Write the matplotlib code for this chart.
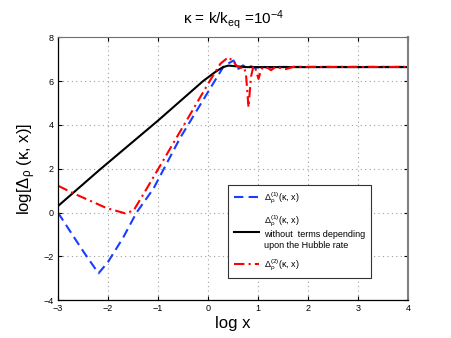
import matplotlib
matplotlib.use('Agg')
import matplotlib.pyplot as plt
import numpy as np

plt.rcParams['font.family'] = ['Liberation Sans', 'DejaVu Sans']
plt.rcParams['mathtext.fontset'] = 'custom'
plt.rcParams['mathtext.rm'] = 'Liberation Sans'
plt.rcParams['mathtext.it'] = 'Liberation Sans'

# black: without terms depending upon the Hubble rate
x_black = [-3.0, -2.17, -1.0, -0.1, 0.14, 0.3, 0.41, 0.55, 0.75, 1.0, 4.0]
y_black = [0.3, 1.95, 4.2, 6.0, 6.41, 6.64, 6.71, 6.68, 6.64, 6.64, 6.64]

# blue dashed: Delta^(1)
x_blue = [-3.0, -2.8, -2.5, -2.19, -2.0, -1.7, -1.43, -1.09, -0.56, 0.14, 0.32,
          0.51, 0.61, 0.7, 0.78, 0.86, 0.95, 1.05, 1.2, 1.4, 4.0]
y_blue = [0.0, -0.7, -1.75, -2.77, -2.25, -1.15, 0.0, 1.1, 3.4, 6.03, 6.7,
          6.94, 6.56, 6.72, 6.6, 6.68, 6.6, 6.67, 6.62, 6.65, 6.65]

# red dash-dot: Delta^(2)
x_red = [-3.0, -2.69, -2.03, -1.66, -1.49, -1.23, 0.04, 0.25, 0.41, 0.5, 0.57,
         0.65, 0.72, 0.76, 0.81, 0.86, 0.91, 0.96, 1.01, 1.06, 1.1, 1.2,
         1.26, 1.35, 1.56, 1.7, 4.0]
y_red = [1.23, 0.88, 0.21, -0.03, 0.09, 1.08, 6.03, 6.8, 7.1, 6.9, 6.71,
         6.6, 6.65, 6.3, 4.81, 6.2, 6.7, 6.5, 6.1, 6.5, 6.65, 6.6,
         6.5, 6.65, 6.55, 6.65, 6.65]

labels = [r'$\Delta_{\rho}^{(1)}(\kappa,\,$x$)$',
          r'$\Delta_{\rho}^{(1)}(\kappa,\,$x$)$' + '\nwithout  terms depending\nupon the Hubble rate',
          r'$\Delta_{\rho}^{(2)}(\kappa,\,$x$)$']

fig = plt.figure(figsize=(4.51, 3.38), dpi=100)
ax = fig.add_axes([0.1286, 0.1115, 0.7761, 0.7781])

ax.plot(x_blue, y_blue, color='#1a3cff', lw=1.5, ls=(0, (4.5, 2.5)), label=labels[0])
ax.plot(x_black, y_black, color='k', lw=1.5, label=labels[1])
ax.plot(x_red, y_red, color='r', lw=1.5, ls=(0, (5, 2, 1, 2)), label=labels[2])

ax.set_xlim(-3, 4)
ax.set_ylim(-4, 8)
ax.set_xticks(np.arange(-3, 5, 1))
ax.set_yticks(np.arange(-4, 9, 2))
ax.grid(True, ls=(0, (1, 3)), color='#a0a0a0', lw=0.8)
ax.tick_params(direction='in', length=3, labelsize=6.5, top=True, right=True, pad=3)
ax.spines['top'].set_color('#707070')
ax.spines['right'].set_color('#808080')
ax.spines['right'].set_linewidth(1.5)
ax.spines['left'].set_linewidth(0.9)
ax.spines['bottom'].set_linewidth(0.9)

ax.set_xlabel('log x', fontsize=12, labelpad=2)
ax.set_ylabel(r'log[$\Delta_{\rho}$ ($\kappa$, x)]', fontsize=12, labelpad=4)
ax.set_title(r'$\kappa$ = k/k$_{\rm eq}$ =10$^{-4}$', fontsize=11, pad=10)

leg = ax.legend(loc='lower left', bbox_to_anchor=(0.487, 0.084), fontsize=6.5,
                fancybox=False, framealpha=1, edgecolor='#333333',
                handlelength=2.8, labelspacing=0.85, borderpad=0.6,
                handletextpad=0.55, borderaxespad=0)
leg.get_frame().set_linewidth(0.8)

fig.savefig('out.png', dpi=100)
